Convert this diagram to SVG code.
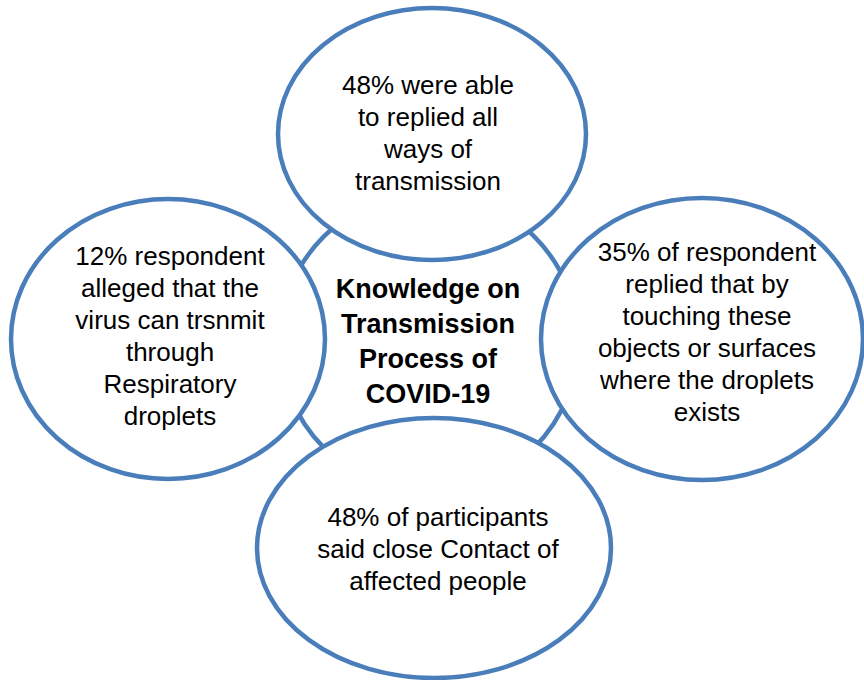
<svg xmlns="http://www.w3.org/2000/svg" width="864" height="680" viewBox="0 0 864 680">
<style>
.shape{fill:#FFFFFF;stroke:#4A7EBB;stroke-width:4.5}
.t{font-family:"Liberation Sans",Arial,sans-serif;font-size:26px;fill:#000000;text-anchor:middle}
.b{font-family:"Liberation Sans",Arial,sans-serif;font-size:27px;font-weight:bold;fill:#000000;text-anchor:middle}
</style>
<rect width="864" height="680" fill="#FFFFFF"/>
<g id="center">
<circle class="shape" cx="429" cy="342" r="149"/>
</g>
<g id="connectors"></g>
<g id="top">
<ellipse class="shape" cx="432" cy="134" rx="154" ry="126"/>
<text class="t" x="428" y="94">48% were able</text>
<text class="t" x="428" y="126">to replied all</text>
<text class="t" x="428" y="158">ways of</text>
<text class="t" x="428" y="190">transmission</text>
</g>
<g id="left">
<ellipse class="shape" cx="168" cy="339" rx="157" ry="140"/>
<text class="t" x="170" y="265">12% respondent</text>
<text class="t" x="170" y="297">alleged that the</text>
<text class="t" x="170" y="329">virus can trsnmit</text>
<text class="t" x="170" y="361">through</text>
<text class="t" x="170" y="393">Respiratory</text>
<text class="t" x="170" y="425">droplets</text>
</g>
<g id="right">
<ellipse class="shape" cx="702" cy="339" rx="161" ry="141"/>
<text class="t" x="707" y="261">35% of respondent</text>
<text class="t" x="707" y="293">replied that by</text>
<text class="t" x="707" y="325">touching these</text>
<text class="t" x="707" y="357">objects or surfaces</text>
<text class="t" x="707" y="389">where the droplets</text>
<text class="t" x="707" y="421">exists</text>
</g>
<g id="bottom">
<ellipse class="shape" cx="434" cy="548" rx="177" ry="130"/>
<text class="t" x="438" y="526">48% of participants</text>
<text class="t" x="438" y="558">said close Contact of</text>
<text class="t" x="438" y="590">affected people</text>
</g>
<g id="center-label">
<text class="b" x="428" y="298">Knowledge on</text>
<text class="b" x="428" y="333">Transmission</text>
<text class="b" x="428" y="368">Process of</text>
<text class="b" x="428" y="403">COVID-19</text>
</g>
</svg>
